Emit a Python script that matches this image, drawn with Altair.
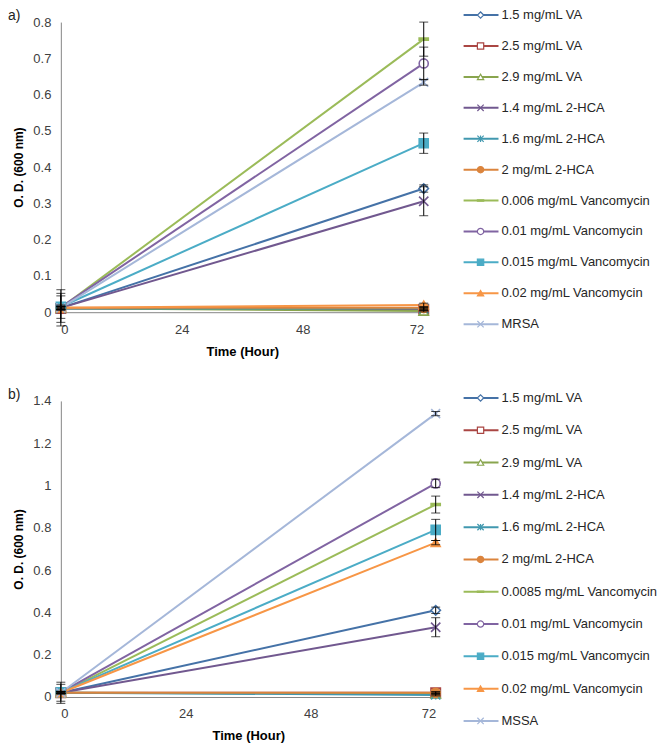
import altair as alt
import pandas as pd

# ---------------- data ----------------
times = [0, 72]
x_ticks = [0, 24, 48, 72]

names_a = ["1.5 mg/mL VA", "2.5 mg/mL VA", "2.9 mg/mL VA", "1.4 mg/mL 2-HCA",
           "1.6 mg/mL 2-HCA", "2 mg/mL 2-HCA", "0.006 mg/mL  Vancomycin",
           "0.01 mg/mL  Vancomycin", "0.015 mg/mL  Vancomycin",
           "0.02 mg/mL  Vancomycin", "MRSA"]
a_t0 = [0.012, 0.010, 0.011, 0.012, 0.010, 0.012, 0.012, 0.014, 0.015, 0.012, 0.012]
a_t72 = [0.341, 0.008, 0.003, 0.306, 0.010, 0.012, 0.753, 0.686, 0.466, 0.020, 0.634]
a_err0 = [0.050, 0.004, 0.004, 0.040, 0.004, 0.004, 0.005, 0.031, 0.005, 0.004, 0.004]
a_err72 = [0.010, 0.003, 0.002, 0.040, 0.003, 0.003, 0.047, 0.045, 0.028, 0.005, 0.008]
a_ticks = [0, 0.1, 0.2, 0.3, 0.4, 0.5, 0.6, 0.7, 0.8]

names_b = ["1.5 mg/mL VA", "2.5 mg/mL VA", "2.9 mg/mL VA", "1.4 mg/mL 2-HCA",
           "1.6 mg/mL 2-HCA", "2 mg/mL 2-HCA", "0.0085 mg/mL Vancomycin",
           "0.01 mg/mL  Vancomycin", "0.015 mg/mL  Vancomycin",
           "0.02 mg/mL  Vancomycin", "MSSA"]
b_t0 = [0.020, 0.020, 0.020, 0.020, 0.020, 0.020, 0.020, 0.022, 0.022, 0.020, 0.020]
b_t72 = [0.410, 0.020, 0.015, 0.330, 0.010, 0.020, 0.910, 1.010, 0.790, 0.730, 1.340]
b_err0 = [0.050, 0.004, 0.004, 0.040, 0.004, 0.004, 0.005, 0.005, 0.005, 0.004, 0.004]
b_err72 = [0.015, 0.005, 0.005, 0.045, 0.005, 0.005, 0.040, 0.020, 0.050, 0.010, 0.010]
b_ticks = [0, 0.2, 0.4, 0.6, 0.8, 1, 1.2, 1.4]

# ---------------- styles ----------------
series_ids = list(range(11))
colors = ["#4572A7", "#AA4643", "#89A54E", "#71588F", "#4198AF", "#DB843D",
          "#9BBB59", "#8064A2", "#4BACC6", "#F79646", "#A5B7D9"]
X_PATH = "M-1,-1L1,1M-1,1L1,-1"
STAR_PATH = "M-1,-1L1,1M-1,1L1,-1M0,-1L0,1"
DASH_PATH = "M-1,-0.22L1,-0.22L1,0.22L-1,0.22Z"
shapes = ["diamond", "square", "triangle-up", X_PATH, STAR_PATH, "circle",
          DASH_PATH, "circle", "square", "triangle-up", X_PATH]
fills = ["white", "white", "white", colors[3], colors[4], colors[5],
         colors[6], "white", colors[8], colors[9], colors[10]]
sizes = [90, 80, 80, 150, 110, 70, 130, 170, 130, 110, 90]
FONT = "Liberation Sans"

col = alt.Color("sid:O", scale=alt.Scale(domain=series_ids, range=colors), legend=None)
stroke = alt.Stroke("sid:O", scale=alt.Scale(domain=series_ids, range=colors), legend=None)
fill = alt.Fill("sid:O", scale=alt.Scale(domain=series_ids, range=fills), legend=None)
shape = alt.Shape("sid:O", scale=alt.Scale(domain=series_ids, range=shapes), legend=None)
size = alt.Size("sid:O", scale=alt.Scale(domain=series_ids, range=sizes), legend=None)


def panel(names, t0, t72, e0, e72, yticks, label, width, height, leg_range):
    rows = []
    for i, n in enumerate(names):
        for t, v, e in ((times[0], t0[i], e0[i]), (times[1], t72[i], e72[i])):
            rows.append(dict(sid=i, name=n, t=t, v=v, lo=v - e, hi=v + e))
    df = pd.DataFrame(rows)
    ymax = yticks[-1]

    xscale = alt.Scale(domain=[0, 72], nice=False)
    xax = alt.Axis(values=x_ticks, title="Time (Hour)", ticks=False,
                   labelPadding=11, titlePadding=9)
    yscale = alt.Scale(domain=[0, ymax], nice=False)
    yax = alt.Axis(values=yticks, format="~g", title="O. D. (600 nm)",
                   ticks=False, labelPadding=10, titlePadding=7)

    def X(f):
        return alt.X(f, scale=xscale, axis=xax)

    def Y(f):
        return alt.Y(f, scale=yscale, axis=yax)

    base = alt.Chart(df)
    lines = base.mark_line(strokeWidth=2).encode(x=X("t:Q"), y=Y("v:Q"), color=col,
                                                 detail="sid:O", order="t:Q")
    pts = base.mark_point(filled=False, strokeWidth=1.6, opacity=1, fillOpacity=1).encode(
        x=X("t:Q"), y=Y("v:Q"), stroke=stroke, fill=fill, shape=shape, size=size)
    err = base.mark_rule(color="black", strokeWidth=1).encode(
        x=X("t:Q"), y=Y("lo:Q"), y2="hi:Q")
    cap_lo = base.mark_tick(color="black", orient="horizontal", size=9, thickness=1).encode(
        x=X("t:Q"), y=Y("lo:Q"))
    cap_hi = base.mark_tick(color="black", orient="horizontal", size=9, thickness=1).encode(
        x=X("t:Q"), y=Y("hi:Q"))
    lab = alt.Chart(pd.DataFrame({"label": [label]})).mark_text(
        align="left", baseline="middle", font=FONT, fontSize=14, color="#222222").encode(
        x=alt.value(-53), y=alt.value(-6), text="label:N")
    main = alt.layer(lines, pts, err, cap_lo, cap_hi, lab)

    leg_df = pd.DataFrame({"sid": series_ids, "name": names})
    ly = alt.Y("name:N", sort=names,
               scale=alt.Scale(type="point", domain=names, range=leg_range, padding=0),
               axis=None)
    lrule = alt.Chart(leg_df).mark_rule(strokeWidth=2).encode(
        x=alt.value(404), x2=alt.value(439), y=ly, color=col)
    lpts = alt.Chart(leg_df).mark_point(filled=False, strokeWidth=1.2, opacity=1, fillOpacity=1,
                                        size=40).encode(
        x=alt.value(421), y=ly, stroke=stroke, fill=fill, shape=shape)
    ltxt = alt.Chart(leg_df).mark_text(align="left", baseline="middle", font=FONT,
                                       fontSize=13, color="#262626").encode(
        x=alt.value(442), y=ly, text="name:N")
    legend = alt.layer(lrule, lpts, ltxt)

    return alt.layer(main, legend).resolve_scale(y="independent").properties(
        width=width, height=height)


pa = panel(names_a, a_t0, a_t72, a_err0, a_err72, a_ticks, "a)", 364, 291, [-7, 303])
pb = panel(names_b, b_t0, b_t72, b_err0, b_err72, b_ticks, "b)", 376, 297, [-3, 321])

chart = alt.vconcat(pa, pb, spacing=30).properties(padding=0).configure_view(
    strokeWidth=0).configure_axis(
    domainColor="#868686", domainWidth=1, grid=False, labelFont=FONT, labelFontSize=13,
    labelColor="#404040", titleFont=FONT, titleFontSize=12, titleFontWeight="bold",
    titleColor="#000000").configure_axisX(titleFontSize=13)

chart.save("out.html", embed_options={"renderer": "svg", "actions": False})
